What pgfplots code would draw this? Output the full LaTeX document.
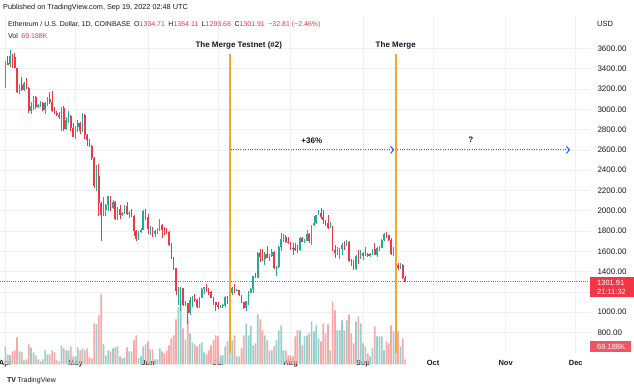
\documentclass[border=0pt]{standalone}
\usepackage{pgfplots}
\pgfplotsset{compat=1.18}
\usepackage{pgfplotstable}
\usetikzlibrary{arrows.meta}
\usepackage{fontspec}
\setmainfont{Liberation Sans}
\definecolor{upc}{HTML}{22AB94}
\definecolor{dnc}{HTML}{F23645}
\definecolor{upv}{HTML}{92D2CC}
\definecolor{dnv}{HTML}{F7A9A7}
\definecolor{gridc}{HTML}{EEF0F4}
\definecolor{txt}{HTML}{131722}
\definecolor{orangec}{HTML}{F6A724}
\definecolor{bluec}{HTML}{2962FF}
\newcommand\fs[1]{\fontsize{#1}{#1}\selectfont}

\pgfplotstableread{
d o h l c v
0 3282 3475 3210 3450 252
1 3450 3530 3435 3445 140
2 3445 3580 3420 3522 126
3 3522 3545 3405 3520 182
4 3520 3556 3405 3410 196
5 3410 3410 3160 3170 378
6 3170 3250 3150 3235 182
7 3235 3315 3185 3190 168
8 3190 3270 3185 3262 56
9 3262 3310 3200 3210 70
10 3210 3215 2960 2980 280
11 2980 3070 2950 3030 238
12 3030 3130 2995 3120 168
13 3120 3130 3000 3020 126
14 3020 3055 3010 3040 70
15 3040 3080 3025 3060 42
16 3060 3070 2985 2990 70
17 2990 3075 2950 3060 196
18 3060 3120 3030 3100 140
19 3100 3170 3050 3075 140
20 3075 3185 2970 2985 196
21 2985 3020 2950 2965 168
22 2965 2980 2930 2940 56
23 2940 2975 2905 2920 42
24 2920 3020 2790 3010 266
25 3010 3035 2790 2810 224
26 2810 2920 2795 2890 196
27 2890 2980 2860 2935 196
28 2935 2945 2785 2815 252
29 2815 2860 2725 2730 112
30 2730 2840 2705 2825 112
31 2825 2890 2780 2860 238
32 2860 2870 2760 2785 196
33 2785 2960 2775 2940 224
34 2940 2955 2705 2750 196
35 2750 2760 2640 2695 224
36 2695 2710 2630 2640 98
37 2640 2650 2500 2520 84
38 2520 2530 2225 2240 574
39 2240 2450 2190 2340 560
40 2340 2460 1950 2080 686
41 2080 2090 1700 1960 980
42 1960 2140 1950 2010 280
43 2010 2070 1950 2060 126
44 2060 2150 2000 2145 196
45 2145 2145 1995 2025 182
46 2025 2110 2015 2090 224
47 2090 2100 1910 1915 238
48 1915 2040 1905 2015 252
49 2015 2055 1920 1960 112
50 1960 1985 1945 1975 84
51 1975 2055 1970 2045 98
52 2045 2085 1960 1970 238
53 1970 1995 1925 1980 182
54 1980 2015 1940 1945 182
55 1945 1960 1750 1805 336
56 1805 1815 1700 1725 406
57 1725 1800 1715 1795 84
58 1795 1825 1780 1815 112
59 1815 2010 1810 1995 252
60 1995 2015 1910 1942 280
61 1942 1970 1775 1820 322
62 1820 1845 1760 1835 210
63 1835 1840 1745 1775 210
64 1775 1810 1745 1800 70
65 1800 1825 1775 1805 70
66 1805 1915 1800 1860 224
67 1860 1870 1730 1815 182
68 1815 1840 1765 1795 154
69 1795 1830 1775 1790 196
70 1790 1805 1655 1660 266
71 1660 1685 1520 1530 364
72 1530 1545 1420 1435 406
73 1435 1440 1170 1208 630
74 1208 1250 1075 1210 800
75 1210 1250 1015 1235 900
76 1235 1240 1060 1066 504
77 1066 1110 1060 1087 350
78 1087 1090 880 995 644
79 995 1145 975 1125 434
80 1125 1160 1050 1127 308
81 1127 1175 1100 1125 280
82 1125 1130 1040 1050 252
83 1050 1150 1045 1143 280
84 1143 1235 1140 1225 308
85 1225 1250 1175 1245 168
86 1245 1275 1195 1200 140
87 1200 1235 1170 1195 196
88 1195 1210 1135 1140 266
89 1140 1145 1075 1100 336
90 1100 1105 1010 1070 406
91 1070 1105 1033 1060 392
92 1060 1075 1040 1067 126
93 1067 1080 1040 1075 126
94 1075 1155 1055 1150 252
95 1150 1160 1085 1135 322
96 1135 1195 1115 1187 406
97 1187 1245 1165 1238 336
98 1238 1280 1190 1215 406
99 1215 1230 1205 1217 112
100 1217 1220 1155 1170 112
101 1170 1172 1090 1097 224
102 1097 1100 1035 1038 406
103 1038 1115 1007 1113 574
104 1113 1210 1075 1192 406
105 1192 1240 1185 1233 532
106 1233 1360 1190 1355 266
107 1355 1390 1340 1340 294
108 1340 1590 1335 1580 700
109 1580 1620 1490 1545 630
110 1545 1620 1505 1520 476
111 1520 1590 1465 1575 406
112 1575 1650 1530 1535 336
113 1535 1575 1505 1550 196
114 1550 1620 1540 1595 196
115 1595 1600 1430 1440 252
116 1440 1460 1360 1450 336
117 1450 1650 1440 1640 476
118 1640 1785 1600 1725 546
119 1725 1770 1690 1740 196
120 1740 1760 1680 1695 196
121 1695 1745 1675 1680 126
122 1680 1695 1610 1635 126
123 1635 1680 1565 1630 112
124 1630 1680 1600 1620 392
125 1620 1665 1580 1610 476
126 1610 1740 1605 1730 476
127 1730 1740 1695 1695 266
128 1695 1725 1680 1700 392
129 1700 1810 1700 1775 406
130 1775 1780 1685 1700 434
131 1700 1860 1665 1855 602
132 1855 1945 1850 1880 462
133 1880 1960 1865 1960 546
134 1960 2010 1955 1980 364
135 1980 2030 1920 1935 322
136 1935 2010 1870 1905 574
137 1905 1910 1850 1875 434
138 1875 1960 1820 1830 560
139 1830 1885 1825 1845 196
140 1845 1850 1600 1615 882
141 1615 1665 1530 1580 756
142 1580 1640 1560 1620 476
143 1620 1630 1525 1625 476
144 1625 1680 1560 1660 616
145 1660 1700 1615 1655 476
146 1655 1710 1650 1695 616
147 1695 1705 1490 1505 700
148 1505 1520 1460 1490 434
149 1490 1510 1420 1425 294
150 1425 1565 1420 1555 602
151 1555 1610 1475 1525 672
152 1525 1610 1520 1555 574
153 1555 1595 1515 1585 294
154 1585 1645 1555 1575 252
155 1575 1580 1540 1555 154
156 1555 1580 1545 1575 112
157 1575 1620 1560 1618 224
158 1618 1680 1560 1560 532
159 1560 1640 1545 1630 392
160 1630 1655 1605 1635 392
161 1635 1725 1630 1715 392
162 1715 1780 1700 1775 196
163 1775 1790 1735 1760 322
164 1760 1765 1700 1715 294
165 1715 1735 1560 1575 546
166 1575 1640 1550 1635 462
167 1635 1650 1460 1470 532
168 1470 1480 1420 1435 462
169 1435 1480 1430 1470 252
170 1470 1475 1330 1335 364
171 1334.71 1354.11 1293.68 1301.91 69.188
}\eth

\pgfplotsset{paneaxis/.style={at={(0,36)},anchor=south west,scale only axis,
  width=590pt,height=337pt,xmin=-2.3,xmax=250.1},
  candle/.style n args={3}{draw=none,mark=none,
    restrict expr to domain={\thisrow{c}-\thisrow{o}}{#2},
    error bars/.cd,y dir=both,y explicit,error mark=none,
    error bar style={draw=#1,draw opacity=1,solid,line width=#3}},
  vline/.style={draw=none,mark=none,error bars/.cd,y dir=plus,y explicit,error mark=none,
    error bar style={draw=#1,draw opacity=1,solid,line width=1.8pt}},
  hline/.style 2 args={draw=none,mark=none,error bars/.cd,x dir=plus,x explicit,error mark=none,
    error bar style={draw=#1,draw opacity=1,line width=1.1pt,#2}}}

\begin{document}
\begin{tikzpicture}[x=1pt,y=1pt]
\path[fill=white,use as bounding box] (0,0) rectangle (634,390);

% grid and tick labels
\begin{axis}[paneaxis,ymin=593,ymax=3915,
  axis line style={draw=none}, major tick length=0pt,
  xtick={0,30,61,91,122,153,183,214,244},
  xticklabels={Apr,May,Jun,Jul,Aug,Sep,Oct,Nov,Dec},
  ytick={800,1000,...,3600}, yticklabel pos=right,
  grid=major, grid style={draw=gridc,line width=0.6pt},
  tick label style={font=\fs{8}, text=txt},
  xticklabel style={yshift=-3pt,font=\bfseries\fs{7.5}},
  yticklabel style={anchor=west,xshift=4pt,/pgf/number format/.cd,fixed,fixed zerofill,precision=2,1000 sep={}},
  scaled y ticks=false,
  /pgf/number format/assume math mode=true]
\addplot[draw=none] coordinates {(0,1000)};
\end{axis}

% volume
\begin{axis}[paneaxis,ymin=0,ymax=4718,hide axis]
\addplot[ybar,bar width=1.7pt,bar shift=0pt,fill=upv,draw=none,
  restrict expr to domain={\thisrow{c}-\thisrow{o}}{0:100000}] table[x=d,y=v]{\eth};
\addplot[ybar,bar width=1.7pt,bar shift=0pt,fill=dnv,draw=none,
  restrict expr to domain={\thisrow{c}-\thisrow{o}}{-100000:-0.001}] table[x=d,y=v]{\eth};
\end{axis}

% candles and annotations
\begin{axis}[paneaxis,ymin=593,ymax=3915,hide axis]
% last price line
\addplot[hline={dnc}{line width=0.9pt,dash pattern=on 1pt off 1.2pt}] coordinates {(-2.3,1301.91) +- (252.4,0)};
% wicks
\addplot[candle={upc}{0:100000}{0.8pt}]
  table[x=d,y expr={(\thisrow{h}+\thisrow{l})/2},y error expr={(\thisrow{h}-\thisrow{l})/2}]{\eth};
\addplot[candle={dnc}{-100000:-0.001}{0.8pt}]
  table[x=d,y expr={(\thisrow{h}+\thisrow{l})/2},y error expr={(\thisrow{h}-\thisrow{l})/2}]{\eth};
% bodies
\addplot[candle={upc}{0:100000}{1.6pt}]
  table[x=d,y expr={(\thisrow{o}+\thisrow{c})/2},y error expr={max(abs(\thisrow{c}-\thisrow{o})/2,4)}]{\eth};
\addplot[candle={dnc}{-100000:-0.001}{1.6pt}]
  table[x=d,y expr={(\thisrow{o}+\thisrow{c})/2},y error expr={max(abs(\thisrow{c}-\thisrow{o})/2,4)}]{\eth};
% event lines
\addplot[vline=orangec] coordinates {(96,593) +- (0,2948)};
\addplot[vline=orangec] coordinates {(167,593) +- (0,2948)};
% projection
\addplot[hline={bluec}{dash pattern=on 1.1pt off 1.3pt,-{Straight Barb[length=3pt,width=7pt]}}] coordinates {(96.4,2600) +- (70,0)};
\addplot[hline={bluec}{dash pattern=on 1.1pt off 1.3pt,-{Straight Barb[length=3pt,width=7pt]}}] coordinates {(167.6,2600) +- (74,0)};
\node[font=\bfseries\fs{8},text=txt] at (axis cs:96,3630) [xshift=9pt] {The Merge Testnet (\#2)};
\node[font=\bfseries\fs{8},text=txt] at (axis cs:167,3630) {The Merge};
\node[font=\bfseries\fs{8},text=txt] at (axis cs:131.1,2686) {+36\%};
\node[font=\bfseries\fs{8},text=txt] at (axis cs:199.1,2696) {?};
\end{axis}

% header
\node[anchor=west,font=\fs{7.3},text=txt,inner sep=0pt] at (3,382) {Published on TradingView.com, Sep 19, 2022 02:48 UTC};
\node[anchor=west,font=\fs{7},text=txt,inner sep=0pt] at (8,365) {Ethereum / U.S. Dollar, 1D, COINBASE\enspace O\textcolor{dnc}{1334.71}\enspace H\textcolor{dnc}{1354.11}\enspace L\textcolor{dnc}{1293.68}\enspace C\textcolor{dnc}{1301.91}\enspace\textcolor{dnc}{−32.81 (−2.46\%)}};
\node[anchor=west,font=\fs{7},text=txt,inner sep=0pt] at (8,354) {Vol\enspace\textcolor{dnc}{69.188K}};
\node[anchor=west,font=\fs{7.5},text=txt,inner sep=0pt] at (597,366) {USD};
% last price box
\fill[dnc] (590,93) rectangle (634,113);
\node[anchor=west,font=\fs{7.5},text=white,inner sep=0pt] at (597,107.5) {1301.91};
\node[anchor=west,font=\fs{7.5},text=white,inner sep=0pt] at (597,98) {21:11:32};
\fill[dnc!85!white] (590,38) rectangle (631,49);
\node[anchor=west,font=\fs{7.5},text=white,inner sep=0pt] at (597,43.5) {69.188K};
% footer
\node[anchor=west,font=\bfseries\fs{7},text=txt,inner sep=0pt] at (7,9) {TV\,\mdseries TradingView};
\end{tikzpicture}
\end{document}
